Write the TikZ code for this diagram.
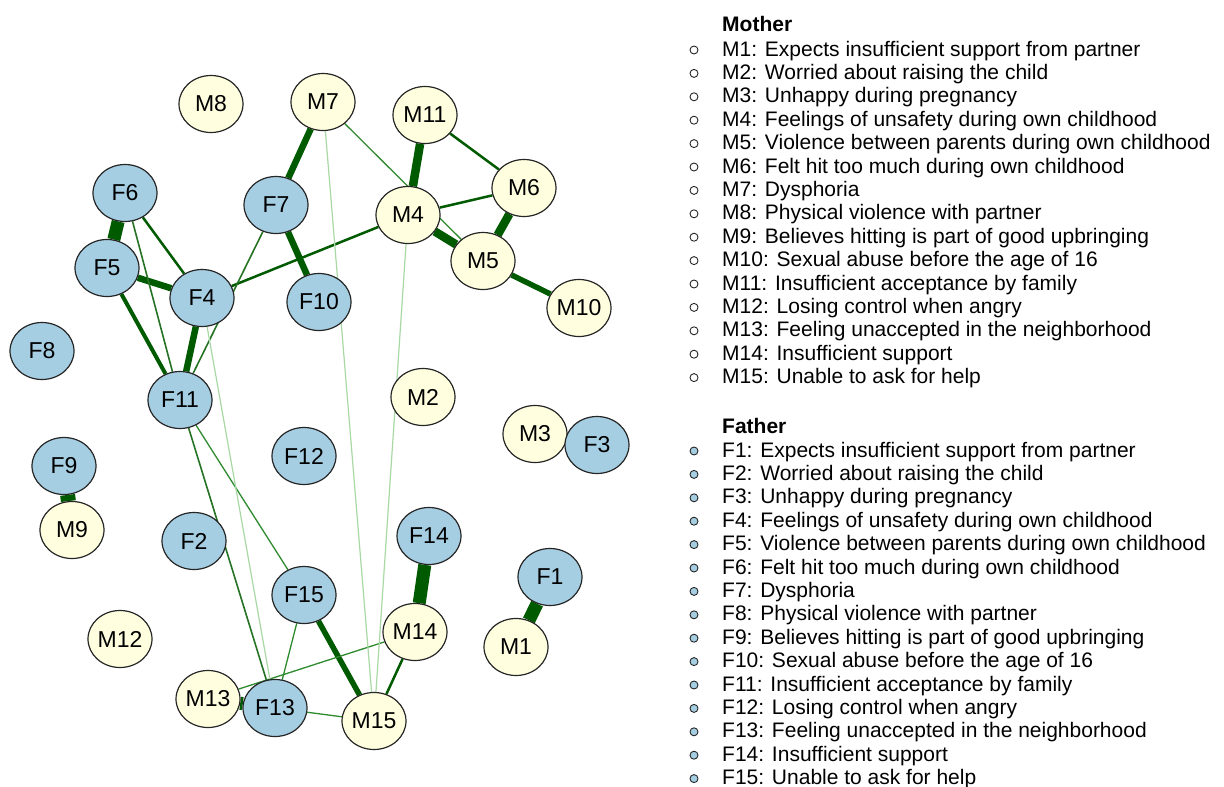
\documentclass[tikz,border=0pt]{standalone}
\usepackage{fontspec}
\setmainfont{Liberation Sans}
\usetikzlibrary{positioning,shapes.geometric,backgrounds}
\definecolor{ink}     {HTML}{262626}
\definecolor{mumfill} {HTML}{FFFFE0}
\definecolor{dadfill} {HTML}{A6CEE3}
\definecolor{strong}  {HTML}{005A00}
\definecolor{medium}  {HTML}{2E8B2E}
\definecolor{pale}    {HTML}{A8D8A4}
\tikzset{
  x=1pt, y=-1pt,
  every node/.style={font=\fontsize{21}{24}\selectfont},
  % --- nodes
  mum/.style  = {ellipse, draw=ink, line width=1.2pt, fill=mumfill,
                 minimum width=64pt, minimum height=57pt, inner sep=0pt,
                 font=\fontsize{23}{26}\selectfont},
  dad/.style  = {mum, fill=dadfill},
  bul/.style  = {circle, draw=ink, line width=0.9pt, minimum size=8pt, inner sep=0pt},
  leg/.style  = {anchor=base west, inner sep=0pt},
  hdr/.style  = {leg, font=\fontsize{21}{24}\selectfont\bfseries},
  % --- edges
  e/.style    = {draw=strong},
  w12/.style  = {e, line width=13pt},
  w8/.style   = {e, line width=8.5pt},
  w6/.style   = {e, line width=6.5pt},
  w5/.style   = {e, line width=5.5pt},
  w4/.style   = {e, line width=4pt},
  w2/.style   = {e, line width=2.5pt},
  wthin/.style= {e, line width=1.6pt, draw=strong!85!white},
  wmid/.style = {line width=1.3pt, draw=medium},
  wpale/.style= {line width=1.2pt, draw=pale},
}
\begin{document}
\begin{tikzpicture}
  \useasboundingbox (0,0) rectangle (1224,787);
  % --- mother nodes
  \node[mum] (M1)  at (516,647) {M1};
  \node[mum] (M2)  at (423,397) {M2};
  \node[mum] (M3)  at (535,434) {M3};
  \node[mum] (M4)  at (408,215) {M4};
  \node[mum] (M5)  at (483,261) {M5};
  \node[mum] (M6)  at (524,188) {M6};
  \node[mum] (M7)  at (323,102) {M7};
  \node[mum] (M8)  at (211,104) {M8};
  \node[mum] (M9)  at (72,530)  {M9};
  \node[mum] (M10) at (579,308) {M10};
  \node[mum] (M11) at (425,115) {M11};
  \node[mum] (M12) at (120,639) {M12};
  \node[mum] (M13) at (208,699) {M13};
  \node[mum] (M14) at (415,632) {M14};
  \node[mum] (M15) at (374,721) {M15};
  % --- father nodes
  \node[dad] (F1)  at (550,577) {F1};
  \node[dad] (F2)  at (194,541) {F2};
  \node[dad] (F3)  at (597,445) {F3};
  \node[dad] (F4)  at (202,298) {F4};
  \node[dad] (F5)  at (107,268) {F5};
  \node[dad] (F6)  at (125,193) {F6};
  \node[dad] (F7)  at (276,205) {F7};
  \node[dad] (F8)  at (42,351)  {F8};
  \node[dad] (F9)  at (64,466)  {F9};
  \node[dad] (F10) at (319,302) {F10};
  \node[dad] (F11) at (180,400) {F11};
  \node[dad] (F12) at (304,456) {F12};
  \node[dad] (F13) at (275,708) {F13};
  \node[dad] (F14) at (429,536) {F14};
  \node[dad] (F15) at (304,595) {F15};
  % --- edges
  \begin{scope}[on background layer]
    \fill[white] (0,0) rectangle (1224,787);
    \draw[w12] (F6)--(F5);   \draw[w12] (F14)--(M14); \draw[w12] (F1)--(M1);
    \draw[w12] (M13)--(F13); \draw[w12,line width=15pt] (F9)--(M9);
    \draw[w8] (M11)--(M4);   \draw[w8] (M4)--(M5);    \draw[w8] (M6)--(M5);
    \draw[w6] (M7)--(F7);    \draw[w6] (F7)--(F10);   \draw[w6] (F4)--(F11);
    \draw[w6] (F5)--(F4);
    \draw[w5] (M5)--(M10);   \draw[w5] (F15)--(M15);
    \draw[w4] (F5)--(F11);
    \draw[w2] (F6)--(F4);    \draw[w2] (M11)--(M6);   \draw[w2] (M4)--(M6);
    \draw[w2] (F4)--(M4);    \draw[w2] (M14)--(M15);
    \draw[wthin] (F6)--(F11); \draw[wthin] (F7)--(F11); \draw[wthin] (F11)--(F13);
    \draw[wmid] (F11)--(F15); \draw[wmid] (M7)--(M5);   \draw[wmid] (M14)--(M13);
    \draw[wmid] (F15)--(F13); \draw[wmid] (F13)--(M15);
    \draw[wpale] (M7)--(M15); \draw[wpale] (M4)--(M15); \draw[wpale] (F4)--(F13);
  \end{scope}
  % --- legend
  \node[hdr] (mhdr) at (722,31) {Mother};
  \foreach \txt [count=\i] in {Expects insufficient support from partner,
      Worried about raising the child, Unhappy during pregnancy,
      Feelings of unsafety during own childhood,
      Violence between parents during own childhood,
      Felt hit too much during own childhood, Dysphoria,
      Physical violence with partner, Believes hitting is part of good upbringing,
      Sexual abuse before the age of 16, Insufficient acceptance by family,
      Losing control when angry, Feeling unaccepted in the neighborhood,
      Insufficient support, Unable to ask for help}{
    \node[bul, fill=white] (mb\i) at (694,50+23.4*\i-23.4) {};
    \node[leg] (ml\i) at (722,56+23.4*\i-23.4) {M\i: \txt};
    \node[bul, fill=dadfill] (fb\i) at (694,451+23.4*\i-23.4) {};
    \node[leg] (fl\i) at (722,457+23.4*\i-23.4) {F\i: \txt};
  }
  \node[hdr] (fhdr) at (722,433) {Father};
\end{tikzpicture}
\end{document}
